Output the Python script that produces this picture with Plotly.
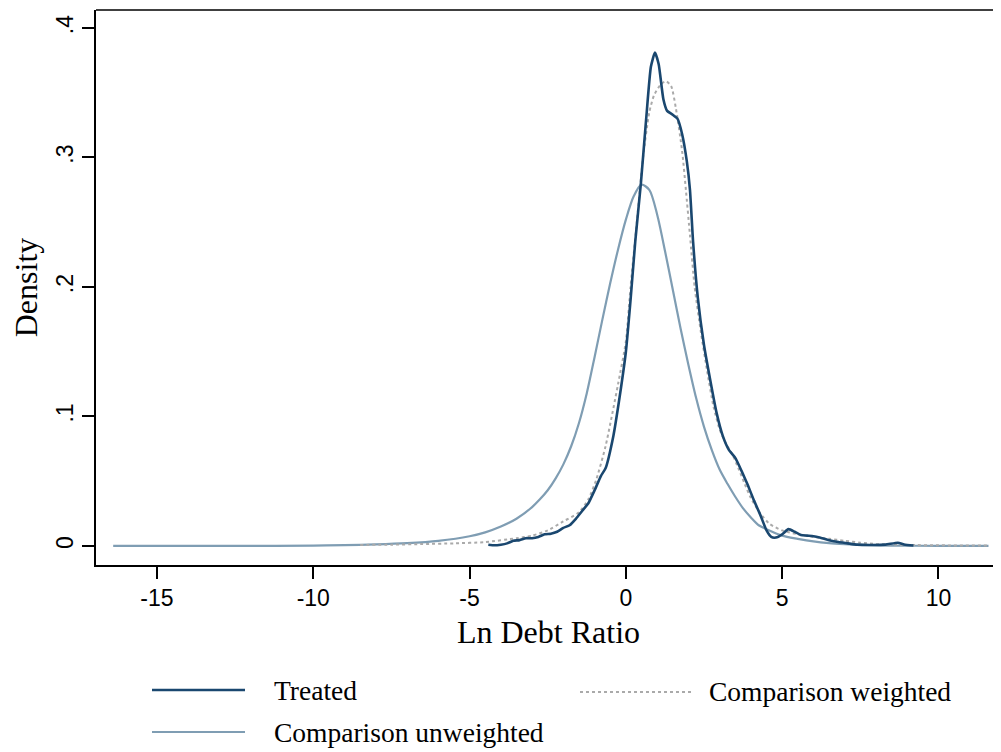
import plotly.graph_objects as go

# ---------------- data ----------------
unw_x = [-16.4, -12, -10, -9, -8, -7, -6, -5, -4.5, -4, -3.5, -3, -2.75, -2.5, -2.25, -2.0,
         -1.75, -1.5, -1.25, -1.0, -0.75, -0.5, -0.25, 0, 0.25, 0.5, 0.75, 1.0, 1.25, 1.5,
         1.75, 2.0, 2.25, 2.5, 2.75, 3.0, 3.25, 3.5, 3.75, 4.0, 4.25, 4.5, 5.0, 5.5, 6.0,
         6.5, 7.0, 7.5, 8.5, 10, 11.6]
unw_y = [0, 0, 0.0003, 0.0006, 0.0012, 0.0022, 0.004, 0.0075, 0.0105, 0.015, 0.021, 0.030,
         0.036, 0.043, 0.052, 0.063, 0.077, 0.095, 0.118, 0.146, 0.175, 0.203, 0.229, 0.252,
         0.270, 0.279, 0.275, 0.256, 0.228, 0.198, 0.168, 0.140, 0.114, 0.092, 0.074, 0.059,
         0.048, 0.038, 0.029, 0.022, 0.016, 0.013, 0.008, 0.0055, 0.0035, 0.0022, 0.0014,
         0.0008, 0.0003, 0.0001, 0]

tr_x = [-4.4, -4.2, -4.0, -3.8, -3.6, -3.4, -3.2, -3.0, -2.8, -2.6, -2.4, -2.2, -2.0, -1.8,
        -1.6, -1.4, -1.2, -1.0, -0.8, -0.65, -0.4, -0.2, 0.0, 0.15, 0.3, 0.48, 0.65, 0.8,
        0.93, 1.05, 1.2, 1.32, 1.5, 1.65, 1.8, 1.95, 2.05, 2.15, 2.3, 2.5, 2.7, 2.9, 3.1,
        3.3, 3.5, 3.7, 3.9, 4.1, 4.3, 4.5, 4.65, 4.8, 5.0, 5.2, 5.4, 5.6, 5.8, 6.0, 6.2,
        6.5, 6.8, 7.1, 7.4, 7.8, 8.3, 8.7, 8.9, 9.2]
tr_y = [0.001, 0.0005, 0.001, 0.002, 0.004, 0.0045, 0.006, 0.006, 0.007, 0.009, 0.0095,
        0.011, 0.014, 0.016, 0.021, 0.027, 0.033, 0.043, 0.054, 0.060, 0.085, 0.115, 0.150,
        0.190, 0.235, 0.280, 0.330, 0.370, 0.381, 0.372, 0.345, 0.336, 0.333, 0.330, 0.318,
        0.297, 0.275, 0.235, 0.192, 0.155, 0.128, 0.103, 0.085, 0.074, 0.068, 0.058, 0.047,
        0.035, 0.024, 0.012, 0.007, 0.0065, 0.009, 0.013, 0.011, 0.0085, 0.008, 0.0075,
        0.0065, 0.0045, 0.003, 0.002, 0.001, 0.0008, 0.001, 0.0025, 0.0012, 0.0004]

wt_x = [-8.5, -7.5, -6.5, -5.5, -4.5, -3.5, -3.0, -2.5, -2.0, -1.5, -1.2, -0.95, -0.65,
        -0.25, 0.0, 0.15, 0.35, 0.55, 0.75, 0.9, 1.1, 1.28, 1.45, 1.6, 1.8, 1.92, 2.05,
        2.2, 2.4, 2.6, 2.8, 3.0, 3.2, 3.4, 3.6, 3.8, 4.0, 4.3, 4.6, 5.0, 5.5, 6.0, 6.5,
        7.0, 7.5, 8.0, 9.0, 10, 11.6]
wt_y = [0.0008, 0.001, 0.0015, 0.002, 0.003, 0.006, 0.008, 0.012, 0.019, 0.026, 0.036,
        0.051, 0.077, 0.125, 0.158, 0.200, 0.250, 0.300, 0.335, 0.348, 0.356, 0.359, 0.355,
        0.338, 0.305, 0.275, 0.240, 0.200, 0.165, 0.135, 0.108, 0.090, 0.079, 0.071, 0.060,
        0.048, 0.037, 0.025, 0.017, 0.012, 0.009, 0.007, 0.0055, 0.004, 0.0025, 0.0015,
        0.0008, 0.0005, 0.0003]

x_ticks = [-15, -10, -5, 0, 5, 10]
x_tick_text = ["-15", "-10", "-5", "0", "5", "10"]
y_ticks = [0, 0.1, 0.2, 0.3, 0.4]
y_tick_text = ["0", ".1", ".2", ".3", ".4"]

names = ["Treated", "Comparison weighted", "Comparison unweighted"]

# ---------------- styles ----------------
C_TR = "#1a476f"
C_UNW = "#7f9db3"
C_WT = "#aaaaaa"
SANS = "Liberation Sans, Arial, sans-serif"
SERIF = "Liberation Serif, Times New Roman, serif"

fig = go.Figure()
fig.add_trace(go.Scatter(x=unw_x, y=unw_y, mode="lines", name=names[2],
                         line=dict(color=C_UNW, width=2.2, shape="spline", smoothing=0.8)))
fig.add_trace(go.Scatter(x=wt_x, y=wt_y, mode="lines", name=names[1],
                         line=dict(color=C_WT, width=2, dash="dot", shape="spline", smoothing=0.6)))
fig.add_trace(go.Scatter(x=tr_x, y=tr_y, mode="lines", name=names[0],
                         line=dict(color=C_TR, width=2.6, shape="spline", smoothing=0.5)))

# the page body has an 8px default margin, so the figure is 8px smaller
fig.update_layout(
    width=993, height=744,
    margin=dict(l=88, r=0, t=2, b=187),
    plot_bgcolor="white", paper_bgcolor="white",
    showlegend=False,
    xaxis=dict(range=[-16.95, 12.0], tickvals=x_ticks, ticktext=x_tick_text,
               ticks="outside", ticklen=12, automargin=False,
               tickwidth=1.5, tickcolor="black", showline=True, linecolor="black",
               linewidth=1.5, showgrid=False, zeroline=False,
               tickfont=dict(family=SANS, size=23, color="black"),
               title=dict(text="Ln Debt Ratio", font=dict(family=SERIF, size=32, color="black"),
                          standoff=10)),
    yaxis=dict(range=[-0.0147, 0.4139], tickvals=y_ticks, ticktext=y_tick_text,
               tickangle=-90, ticks="outside", ticklen=12, tickwidth=1.5, automargin=False,
               tickcolor="black", showline=True, linecolor="black", linewidth=1.5,
               showgrid=False, zeroline=False,
               tickfont=dict(family=SANS, size=23, color="black"),
               title=dict(text="Density", font=dict(family=SERIF, size=32, color="black"),
                          standoff=6)),
)

# top frame line
fig.add_shape(type="line", xref="paper", yref="paper", x0=0, x1=1, y0=1, y1=1,
              line=dict(color="black", width=1.5))

# ---------------- manual legend (long key lines like the original) ----------------
PW, PH = 905.0, 555.0
def px(xp):
    return (xp - 96) / PW
def py(yp):
    return (565 - yp) / PH

legend_items = [
    (names[0], 152, 245, 690, C_TR, 2.6, "solid", 272),
    (names[1], 580, 692, 692, C_WT, 2, "dot", 707),
    (names[2], 152, 245, 732, C_UNW, 2.2, "solid", 272),
]
for label, x0, x1, yy, col, w, dash, tx in legend_items:
    fig.add_shape(type="line", xref="paper", yref="paper", x0=px(x0), x1=px(x1),
                  y0=py(yy), y1=py(yy), line=dict(color=col, width=w, dash=dash))
    fig.add_annotation(xref="paper", yref="paper", x=px(tx), y=py(yy), text=label,
                       showarrow=False, xanchor="left", yanchor="middle",
                       font=dict(family=SERIF, size=27.5, color="black"))

fig.write_html("out.html")
